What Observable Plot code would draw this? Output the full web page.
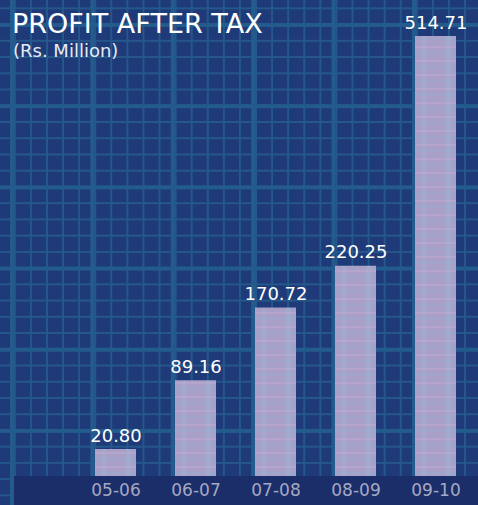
<!DOCTYPE html>
<html>
<head>
<meta charset="utf-8">
<script src="https://cdn.jsdelivr.net/npm/d3@7"></script>
<script src="https://cdn.jsdelivr.net/npm/@observablehq/plot@0.6"></script>
<style>
  html, body { margin: 0; padding: 0; }
  #wrap {
    position: relative; width: 478px; height: 505px; overflow: hidden;
    background-color: #1f3a79;
    background-image:
      linear-gradient(to right, #235b8d 0 4px, transparent 4px),
      linear-gradient(to bottom, #235b8d 0 4px, transparent 4px),
      linear-gradient(to right, #24588b 0 1.5px, transparent 1.5px),
      linear-gradient(to bottom, #24588b 0 1.5px, transparent 1.5px);
    background-size: 80.4px 100%, 100% 81.2px, 16.08px 100%, 100% 16.24px;
    background-position: 10px 0, 0 23px, 13.9px 0, 0 7.4px;
    font-family: "DejaVu Sans", Verdana, sans-serif;
  }
  #band { position: absolute; left: 14px; top: 476px; width: 464px; height: 29px; background: #1b2e69; }
  #title { position: absolute; left: 12px; top: 10px; font-size: 27px; line-height: 27px; color: #ffffff; white-space: nowrap; }
  #subtitle { position: absolute; left: 13px; top: 42px; font-size: 18px; line-height: 18px; color: #e8ebf4; white-space: nowrap; }
  #chart { position: absolute; left: 0; top: 0; }
</style>
</head>
<body>
<div id="wrap">
  <div id="band"></div>
  <div id="chart"></div>
  <div id="title">PROFIT AFTER TAX</div>
  <div id="subtitle">(Rs. Million)</div>
</div>
<script>
const years = ["05-06", "06-07", "07-08", "08-09", "09-10"];
const profits = [20.80, 89.16, 170.72, 220.25, 514.71];
const valueLabels = ["20.80", "89.16", "170.72", "220.25", "514.71"];

const data = years.map((y, i) => ({year: y, value: profits[i], label: valueLabels[i]}));

const svg = Plot.plot({
  width: 478,
  height: 505,
  marginTop: 36,
  marginBottom: 29,
  marginLeft: 74,
  marginRight: 2,
  style: {background: "transparent", fontSize: "17px", color: "#a4a9c3", fontFamily: "DejaVu Sans, Verdana, sans-serif"},
  x: {domain: years, paddingInner: 0.49, paddingOuter: 0.245, label: null, tickSize: 0, tickPadding: 7},
  y: {type: "pow", exponent: 0.87, domain: [0, d3.max(profits)], axis: null},
  marks: [
    Plot.barY(data, {x: "year", y: "value", fill: "url(#barTexture)"}),
    Plot.text(data, {x: "year", y: "value", text: "label", dy: -8, lineAnchor: "bottom", fill: "#ffffff", fontSize: 18})
  ]
});

const ns = "http://www.w3.org/2000/svg";
const defs = document.createElementNS(ns, "defs");
defs.innerHTML = `
  <pattern id="barTexture" patternUnits="userSpaceOnUse" width="40" height="14">
    <rect width="40" height="14" fill="#a9a0c7"/>
    <rect x="6" width="5" height="14" fill="#9cb6d8" opacity="0.5"/>
    <rect x="22" width="4" height="14" fill="#9cb6d8" opacity="0.35"/>
    <rect y="4" width="40" height="2" fill="#c2a8cf" opacity="0.5"/>
    <rect y="10" width="40" height="2" fill="#97acd4" opacity="0.4"/>
  </pattern>`;
svg.insertBefore(defs, svg.firstChild);
document.getElementById("chart").appendChild(svg);
</script>
</body>
</html>
